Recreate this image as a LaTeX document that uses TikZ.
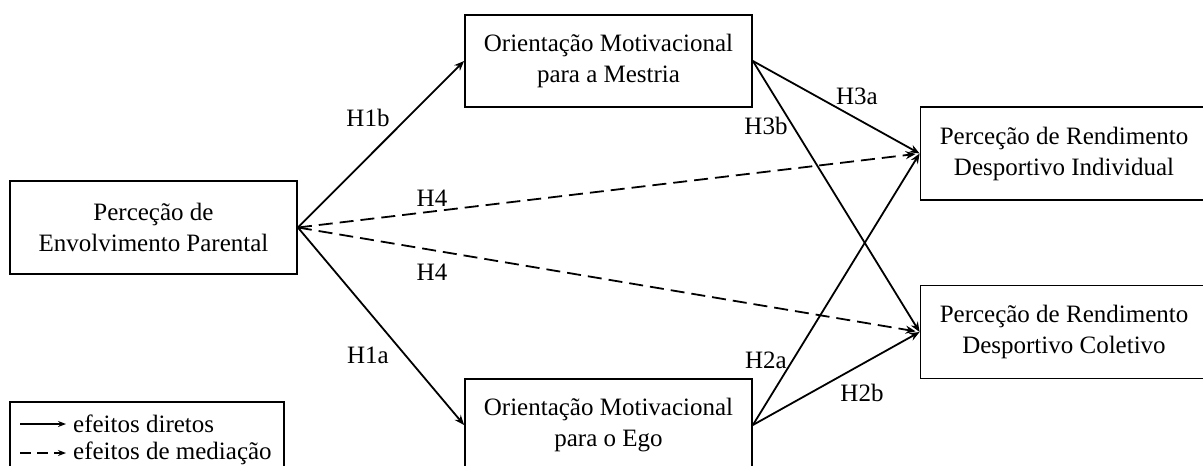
\documentclass[tikz,border=0pt]{standalone}
\usepackage{fontspec}
\setmainfont{Liberation Serif}
\usetikzlibrary{arrows.meta}
\begin{document}
\begin{tikzpicture}[x=1pt,y=-1pt,
  box/.style={draw,line width=1.8pt,rectangle,inner sep=0pt,minimum width=287pt,minimum height=93pt,align=center,font=\fontsize{25}{31}\selectfont},
  lbl/.style={font=\fontsize{25}{31}\selectfont,inner sep=0pt},
  conn/.style={line width=1.8pt,-{Stealth[length=10pt,width=8pt]}},
  med/.style={conn,dash pattern=on 14pt off 7pt,shorten >=4pt}]
\useasboundingbox (0,0) rectangle (1203,466);
\clip (0,0) rectangle (1203,466);
\node[box] (L) at (153.5,227.5) {Perceção de\\Envolvimento Parental};
\node[box,minimum height=92pt] (M) at (608.5,61) {Orientação Motivacional\\para a Mestria};
\node[box,minimum height=92pt] (E) at (608.5,425) {Orientação Motivacional\\para o Ego};
\node[box] (RI) at (1064,153.5) {Perceção de Rendimento\\Desportivo Individual};
\node[box] (RC) at (1064,332) {Perceção de Rendimento\\Desportivo Coletivo};
\draw[conn] (L.east) -- (M.west);
\draw[conn] (L.east) -- (E.west);
\draw[med] (L.east) -- (RI.west);
\draw[med] (L.east) -- (RC.west);
\draw[conn] (M.east) -- (RI.west);
\draw[conn] (M.east) -- (RC.west);
\draw[conn] (E.east) -- (RI.west);
\draw[conn] (E.east) -- (RC.west);
\node[lbl] (h1b) at (368,118) {H1b};
\node[lbl] (h4a) at (432,198) {H4};
\node[lbl] (h4b) at (432,272) {H4};
\node[lbl] (h1a) at (368,355) {H1a};
\node[lbl] (h3a) at (857,96) {H3a};
\node[lbl] (h3b) at (766,126) {H3b};
\node[lbl] (h2a) at (766,360) {H2a};
\node[lbl] (h2b) at (862,393) {H2b};
% legend
\node[draw,line width=1.8pt,inner sep=0pt,minimum width=274pt,minimum height=100pt] (leg) at (147,452) {};
\coordinate (s1) at (20,424);
\coordinate (e1) at (66,424);
\coordinate (s2) at (20,453);
\coordinate (e2) at (66,453);
\draw[line width=1.8pt,-{Stealth[length=8pt,width=6pt]}] (s1) -- (e1);
\draw[line width=1.8pt,dash pattern=on 11pt off 6pt,-{Stealth[length=8pt,width=6pt]}] (s2) -- (e2);
\node[lbl,anchor=west] (t1) at (73,424) {efeitos diretos};
\node[lbl,anchor=west] (t2) at (73,453) {efeitos de mediação};
\end{tikzpicture}
\end{document}
